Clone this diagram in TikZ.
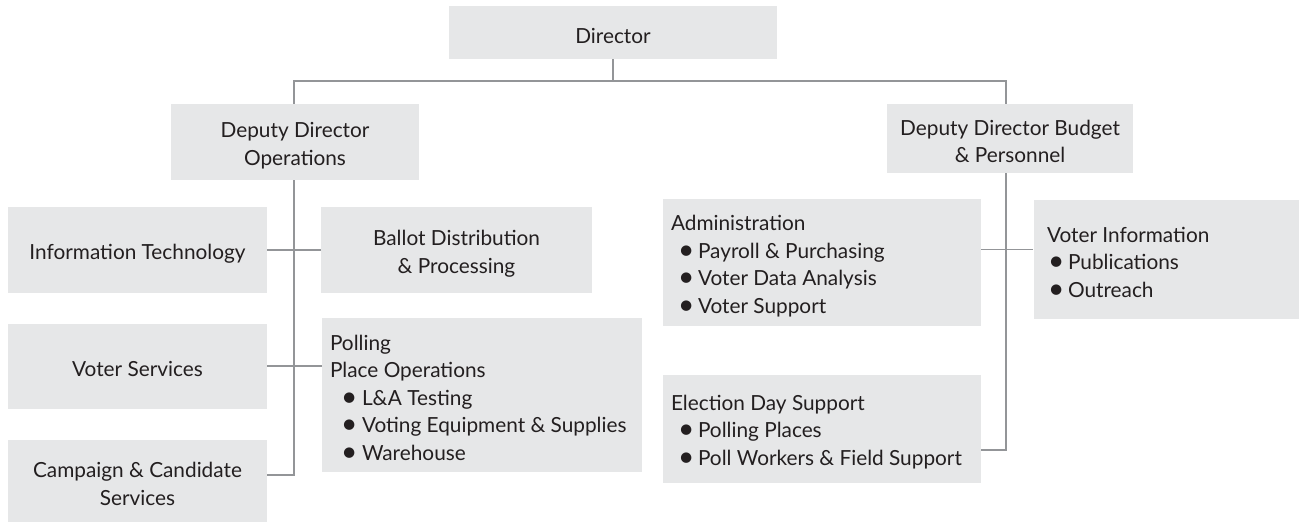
\documentclass[tikz,border=0pt]{standalone}
\usepackage{fontspec}
\setmainfont{Lato}
\definecolor{boxgray}{HTML}{E6E7E8}
\definecolor{linegray}{HTML}{939598}
\definecolor{txt}{HTML}{231F20}
\newcommand{\bitem}[3]{\\\hspace*{#1}\makebox[#2][l]{\raisebox{-0.1ex}{\scalebox{1.35}{\textbullet}}}#3}
\begin{document}
\begin{tikzpicture}[x=1pt,y=-1pt,
  box/.style={fill=boxgray, draw=none, inner sep=0pt},
  lbl/.style={inner sep=0pt, text=txt, align=center,
    font=\fontsize{20.8}{27.5}\selectfont},
  llbl/.style={lbl, align=left, anchor=west},
  conn/.style={draw=linegray, line width=1.6pt}]
\useasboundingbox (0,0) rectangle (1304,523);
% boxes
\node[box, minimum width=328pt, minimum height=53pt] (dir) at (613,32.5) {};
\node[box, minimum width=248pt, minimum height=76pt] (dops) at (295,142) {};
\node[box, minimum width=246pt, minimum height=69pt] (dbud) at (1010,138.5) {};
\node[box, minimum width=259pt, minimum height=86pt] (it) at (137.5,250) {};
\node[box, minimum width=271pt, minimum height=86pt] (ballot) at (456.5,250) {};
\node[box, minimum width=259pt, minimum height=85pt] (vs) at (137.5,366) {};
\node[box, minimum width=259pt, minimum height=82pt] (camp) at (137.5,481) {};
\node[box, minimum width=320pt, minimum height=154pt] (poll) at (482,395) {};
\node[box, minimum width=318pt, minimum height=127pt] (admin) at (822,262.5) {};
\node[box, minimum width=265pt, minimum height=119pt] (vinfo) at (1166,259.5) {};
\node[box, minimum width=318pt, minimum height=108pt] (elect) at (822,429) {};
% labels
\node[lbl] (dir-t) at ([yshift=-3pt]dir.center) {Director};
\node[lbl] (dops-t) at ([yshift=-3.5pt]dops.center) {Deputy Director\\Operations};
\node[lbl] (dbud-t) at ([yshift=-3pt]dbud.center) {Deputy Director Budget\\\& Personnel};
\node[lbl] (it-t) at ([yshift=-3.5pt]it.center) {Information Technology};
\node[lbl] (ballot-t) at ([yshift=-3.5pt]ballot.center) {Ballot Distribution\\\& Processing};
\node[lbl] (vs-t) at ([yshift=-3pt]vs.center) {Voter Services};
\node[lbl] (camp-t) at ([yshift=-3pt]camp.center) {Campaign \& Candidate\\Services};
\node[llbl] (poll-t) at ([xshift=8pt,yshift=-3pt]poll.west) {Polling\\Place Operations\bitem{11pt}{21pt}{L\&A Testing}\bitem{11pt}{21pt}{Voting Equipment \& Supplies}\bitem{11pt}{21pt}{Warehouse}};
\node[llbl] (admin-t) at ([xshift=8pt,yshift=-3.5pt]admin.west) {Administration\bitem{7pt}{20pt}{Payroll \& Purchasing}\bitem{7pt}{20pt}{Voter Data Analysis}\bitem{7pt}{20pt}{Voter Support}};
\node[llbl] (vinfo-t) at ([xshift=13.5pt,yshift=-3pt]vinfo.west) {Voter Information\bitem{1pt}{20pt}{Publications}\bitem{1pt}{20pt}{Outreach}};
\node[llbl] (elect-t) at ([xshift=8pt,yshift=-3pt]elect.west) {Election Day Support\bitem{7pt}{20pt}{Polling Places}\bitem{7pt}{20pt}{Poll Workers \& Field Support}};
% connectors
\coordinate (hl) at (294,81);
\coordinate (hr) at (1006,81);
\coordinate (campc) at ([yshift=6pt]camp.east);
\coordinate (electc) at ([yshift=-21pt]elect.east);
\coordinate (adminc) at ([yshift=13pt]admin.east);
\draw[conn] (dir.south) -- (dir.south |- hl);
\draw[conn] (hl |- dops.north) -- (hl) -- (hr) -- (hr |- dbud.north);
\draw[conn] (hl |- dops.south) -- (hl |- campc) -- (campc);
\draw[conn] (it.east) -- (ballot.west);
\draw[conn] (vs.east) -- (vs.east -| poll.west);
\draw[conn] (hr |- dbud.south) -- (hr |- electc) -- (electc);
\draw[conn] (adminc) -- (adminc -| vinfo.west);
\end{tikzpicture}
\end{document}
